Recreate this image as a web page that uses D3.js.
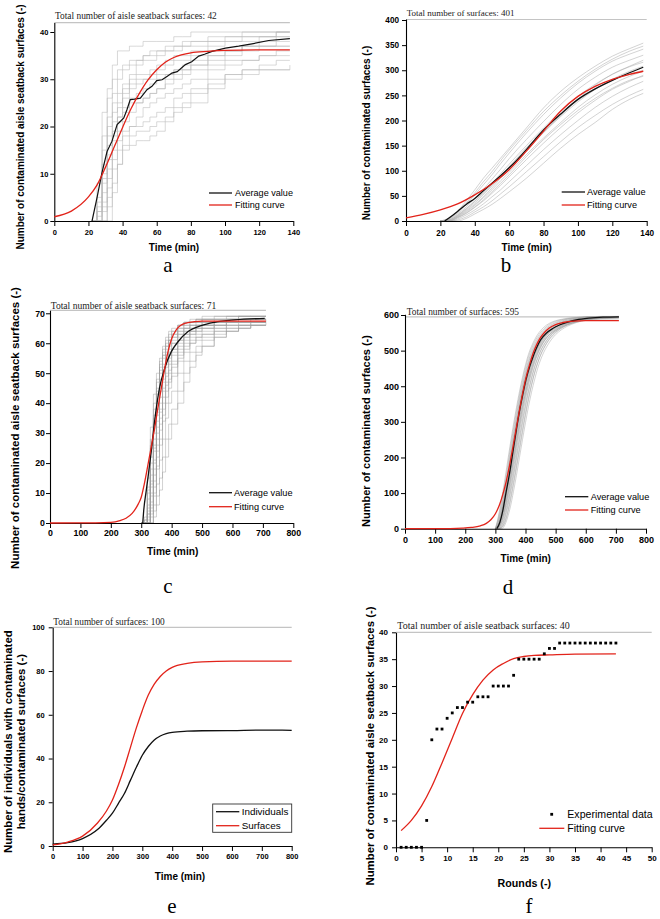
<!DOCTYPE html>
<html><head><meta charset="utf-8">
<script src="https://cdn.jsdelivr.net/npm/d3@7"></script>
<style>body{margin:0;background:#fff}svg{display:block}</style>
</head><body><svg id="chart" width="660" height="919"></svg>
<script>
// ---------------- DATA ----------------
// Panel a
const aXTicks = [0,20,40,60,80,100,120,140];
const aYTicks = [0,10,20,30,40];
const aAvgT = [22.1,25,27.9,30.9,33.8,36.8,38.5,40.7,42.5,44.5,47,50.4,54.3,57.2,60,63.1,66,68.9,72,76.8,80.5,84.6,88,92.4,100.2,108,115.8,125.6,138];
const aAvgV = [0,4.9,10.2,14.7,16.9,20.4,21,21.8,23.5,25.7,25.8,26,27.8,28.5,29.7,29.9,30.6,31.3,31.6,33.1,33.7,34.9,35.3,35.9,36.6,37,37.5,38.2,38.6];
const aFitT = [0,10,20,25,30,35,40,45,50,55,60,65,70,80,90,100,120,138];
const aFitV = [0.9,2.1,5.1,7.6,11.4,15.6,19.8,23.8,27.1,29.9,32,33.6,34.6,35.6,35.9,36.1,36.2,36.2];
const aRunT = [22,25,28,31,34,37,40,44,48,52,56,60,65,70,75,80,90,100,110,120,130,138];
const aRuns = [
  [0,8,23,28,33,36,36,37,37,38,38,38,38,39,39,40,40,40,40,40,40,40],
  [0,4,15,22,27,30,32,33,34,35,36,36,37,37,38,38,39,39,40,40,40,40],
  [0,2,10,18,23,25,28,30,31,31,32,33,34,35,35,36,37,38,38,39,39,39],
  [0,0,6,13,19,22,24,26,27,28,29,30,31,32,33,34,35,36,37,37,38,38],
  [0,0,3,9,15,19,21,23,25,26,27,28,29,30,31,32,34,35,36,37,37,37],
  [0,0,0,5,11,15,18,20,22,24,25,26,27,28,29,30,32,33,34,35,36,36],
  [0,0,0,3,8,12,15,16,17,17,18,19,21,23,24,25,28,30,31,32,32,33],
  [0,1,8,16,21,24,27,29,30,30,30,31,31,32,32,33,33,34,34,35,35,35],
  [0,3,12,20,25,27,29,31,33,34,34,35,36,36,37,37,38,38,39,39,40,40],
  [0,0,2,7,13,17,19,20,20,21,22,23,24,26,27,28,30,31,32,32,32,32],
  [0,0,4,11,17,21,23,25,25,26,27,28,30,31,32,33,35,36,37,38,39,39],
  [0,2,9,14,18,22,26,28,29,30,31,32,33,34,34,35,36,36,37,37,37,37],
  [0,0,0,0,6,12,16,18,19,19,20,21,22,24,25,27,29,31,32,33,34,34],
  [0,5,18,26,30,32,33,34,34,35,35,36,36,37,37,38,38,39,39,39,40,40]
];
// Panel b
const bXTicks = [0,20,40,60,80,100,120,140];
const bYTicks = [0,50,100,150,200,250,300,350,400];
const bAvgT = [22.5,25,30,35,40,45,50,55,60,65,70,75,80,90,100,110,120,130,138];
const bAvgV = [0,6,19,33,45,60,75,90,106,123,142,162,181,213,242,263,280,295,306];
const bFitT = [0,10,20,30,40,50,60,70,80,90,100,110,120,130,138];
const bFitV = [6,13,22,34,52,74,102,139,179,219,248,268,282,292,298];
const bRunT = [20,25,30,35,40,45,50,55,60,70,80,90,100,110,120,130,138];
const bRuns = [
  [0,6,20,40,62,85,105,125,145,185,225,258,285,308,328,343,354],
  [0,4,16,33,52,72,92,114,135,175,212,245,274,298,318,332,342],
  [0,3,14,28,45,63,83,103,124,162,198,232,262,286,306,320,330],
  [0,2,12,25,40,57,75,94,113,150,185,218,248,272,292,307,316],
  [0,1,10,22,36,52,70,88,106,142,176,208,237,262,282,298,308],
  [0,0,8,18,31,46,62,80,97,132,165,196,226,251,272,288,298],
  [0,0,6,15,27,40,55,71,88,122,155,186,215,240,262,278,290],
  [0,0,4,12,22,34,48,62,78,110,142,172,200,226,248,266,278],
  [0,0,2,8,18,28,40,54,68,98,128,158,186,210,232,250,262],
  [0,0,0,5,14,23,33,45,58,85,115,145,172,196,222,242,254],
  [0,5,18,36,56,78,98,120,141,180,218,250,278,302,322,338,348],
  [0,2,11,24,39,55,72,90,108,146,180,212,240,262,280,292,300],
  [0,1,9,20,33,48,66,85,103,140,176,210,242,270,292,308,320],
  [0,0,7,16,28,42,58,75,92,128,162,192,220,244,264,280,288]
];
// Panel c
const cXTicks = [0,100,200,300,400,500,600,700,800];
const cYTicks = [0,10,20,30,40,50,60,70];
const cAvgT = [305,308,316,322,333,344,360,377,399,421,454,497,541,607,706];
const cAvgV = [0,4,10.5,15,24,34,45,51.6,57.2,60.5,63.9,65.9,67,67.8,68.3];
const cFitT = [0,150,200,230,250,270,290,300,310,322,333,344,355,366,377,388,400,415,430,450,475,500,550,600,650,710];
const cFitV = [0,0.05,0.2,0.8,1.6,3.2,6.3,8.6,13,19.4,25.5,31.6,38.5,45,51.5,57.2,61.5,64.5,66,66.8,67.2,67.4,67.4,67.4,67.4,67.4];
const cRunT = [300,310,320,330,340,350,360,370,380,390,400,420,440,460,480,500,540,580,620,660,710];
const cRuns = [
  [0,2,15,32,43,50,55,59,62,64,65,66,67,68,68,69,69,69,69,69,69],
  [0,0,10,26,38,47,53,57,60,62,64,66,67,67,68,68,68,69,69,69,69],
  [0,0,6,20,33,43,50,55,58,61,62,64,65,66,67,67,68,68,68,68,68],
  [0,0,4,16,28,38,46,52,56,59,61,63,65,66,66,67,67,68,68,68,68],
  [0,0,2,12,24,34,42,48,53,56,58,61,63,64,65,66,67,67,67,68,68],
  [0,0,0,9,20,30,38,45,50,54,57,60,62,64,65,65,66,67,67,67,67],
  [0,0,0,6,16,26,35,42,47,51,54,58,61,63,64,65,66,66,67,67,67],
  [0,0,0,4,12,22,31,38,44,48,52,56,59,61,62,63,65,66,66,67,67],
  [0,0,0,2,9,18,26,34,40,45,49,54,57,60,61,62,64,65,66,66,66],
  [0,0,0,0,6,13,21,28,35,40,44,50,54,57,59,61,63,64,65,66,66],
  [0,0,0,0,4,9,15,22,28,33,38,44,50,54,57,59,62,64,65,66,66],
  [0,0,0,0,2,6,11,17,22,28,33,40,47,52,56,59,62,64,65,66,67],
  [0,1,11,25,36,45,52,56,59,61,63,65,66,67,67,68,68,68,69,69,69],
  [0,0,3,14,26,37,45,51,55,58,60,62,64,65,66,66,67,67,68,68,68],
  [0,1,12,28,40,48,54,58,61,63,64,66,67,67,68,68,69,69,69,69,69],
  [0,0,8,22,35,44,51,56,59,61,63,65,66,67,67,68,68,68,69,69,69],
  [0,0,5,18,30,40,48,53,57,60,62,64,65,66,66,67,67,68,68,68,68],
  [0,0,3,13,25,36,44,50,54,57,60,63,64,65,66,66,67,67,68,68,68],
  [0,0,1,10,21,32,40,47,52,55,58,61,63,64,65,66,66,67,67,67,68],
  [0,0,0,7,18,28,37,44,49,53,56,59,62,63,64,65,66,67,67,67,67],
  [0,0,0,5,14,24,33,40,46,50,53,57,60,62,63,64,65,66,66,67,67],
  [0,0,0,3,10,19,28,36,42,47,50,55,58,60,62,63,64,65,66,66,66]
];
// Panel d
const dXTicks = [0,100,200,300,400,500,600,700,800];
const dYTicks = [0,100,200,300,400,500,600];
const dAvgT = [305,315,325,335,347,358,369.5,380,391.6,402,413.7,425,435.8,450,469,490,513,540,568.6,610,657,710];
const dAvgV = [0,18,52,100,155,215,277,330,380,420,455,483,506,530,549,562,572,580,586,591,594,595];
const dFitT = [0,100,150,190,220,250,270,285,300,314,325,336,347,358,369,380,391,402,414,425,436,450,465,480,500,525,560,600,650,710];
const dFitV = [0,0.1,0.4,1.5,3.5,8,15,25,42,68,97,133,178,228,280,333,382,425,462,492,515,537,553,564,573,579,583,584,584,584];
const dRunT = [300,310,320,330,340,350,360,370,380,390,400,410,420,430,440,450,460,480,500,520,540,570,600,650,710];
const dRuns = [
  [0,35,80,130,185,240,292,340,385,425,460,490,512,530,545,556,565,577,584,588,591,593,595,596,596],
  [0,25,62,108,160,215,268,318,365,405,442,472,497,517,533,546,556,570,579,585,589,592,594,595,596],
  [0,18,50,92,142,195,250,300,348,390,428,460,485,507,524,538,549,564,574,581,586,590,593,595,595],
  [0,10,38,78,125,175,228,280,328,372,410,443,470,493,511,526,538,556,567,576,582,587,591,594,595],
  [0,5,26,60,105,152,205,258,308,352,393,428,458,483,503,519,532,551,564,573,579,586,590,593,594],
  [0,2,16,45,85,130,180,232,283,330,373,410,442,470,492,510,525,546,560,570,577,584,589,592,593],
  [0,0,8,30,65,108,155,205,256,305,350,390,425,455,480,500,516,540,556,567,575,583,588,592,594],
  [0,0,3,18,45,85,130,178,228,278,325,368,405,438,465,487,505,532,550,563,572,581,587,591,593],
  [0,0,0,8,30,62,104,150,200,250,298,343,383,418,449,474,494,524,545,559,569,579,586,590,592],
  [0,8,32,70,116,165,218,270,318,362,402,436,464,488,508,523,536,554,566,575,581,587,591,594,595],
  [0,3,20,52,95,142,195,246,296,342,382,418,448,474,495,512,526,545,557,566,573,580,585,588,589],
  [0,14,45,88,138,190,244,295,343,386,424,456,482,503,520,534,545,561,571,579,584,589,592,594,595],
  [0,30,72,120,172,228,280,330,375,416,452,482,505,524,539,551,560,574,582,587,590,593,595,596,596],
  [0,20,56,100,150,205,258,308,356,398,435,466,491,512,529,542,553,567,577,583,588,591,594,595,595],
  [0,12,42,84,132,184,238,290,338,382,420,452,478,500,517,532,543,560,571,579,584,589,592,594,595],
  [0,6,30,66,112,160,212,265,315,360,400,436,464,489,508,524,536,554,566,575,581,586,590,593,594],
  [0,3,20,50,92,138,190,242,292,340,382,420,451,478,499,516,530,550,562,571,578,585,589,592,594],
  [0,1,12,38,75,120,168,220,272,320,364,404,438,466,489,508,523,545,559,569,576,583,588,591,593],
  [0,0,5,25,58,100,146,196,246,296,342,384,420,452,477,498,514,539,555,566,574,582,587,591,593],
  [0,0,2,14,40,78,122,170,220,270,318,362,402,436,464,488,506,534,552,564,573,581,587,590,592]
];
// Panel e
const eXTicks = [0,100,200,300,400,500,600,700,800];
const eYTicks = [0,20,40,60,80,100];
const eT = [0,50,100,150,180,200,220,240,260,280,300,320,340,360,380,400,450,500,600,700,800];
const eSurfaces = [0.5,1.8,4.5,10.5,16,21,28,36,45,54,62,69,74,77.5,80,81.7,83.5,84.2,84.5,84.5,84.5];
const eIndividuals = [0.9,1.5,3.4,7.5,11.8,15,19.5,24,30,36,41.5,45.5,48.5,50.3,51.4,52,52.5,52.7,52.8,53,52.9];
// Panel f
const fXTicks = [0,5,10,15,20,25,30,35,40,45,50];
const fYTicks = [0,5,10,15,20,25,30,35,40];
const fRounds = [1,2,3,4,5,6,7,8,9,10,11,12,13,14,15,16,17,18,19,20,21,22,23,24,25,26,27,28,29,30,31,32,33,34,35,36,37,38,39,40,41,42,43];
const fExperimental = [0,0,0,0,0,5,20,22,22,24,25,26,26,27,27,28,28,28,30,30,30,30,32,35,35,35,35,35,36,37,37,38,38,38,38,38,38,38,38,38,38,38,38];
const fFitR = [1,3,5,7,9,11,13,15,17,19,21,23,25,27,30,35,43];
const fFitV = [3.1,5.0,7.7,11.3,15.7,20.3,24.9,28.4,31.1,33.0,34.2,35.1,35.5,35.7,35.8,35.95,36.0];

// ---------------- DRAWING ----------------
const SANS = "'Liberation Sans', Arial, Helvetica, sans-serif";
const SERIF = "'Liberation Serif', 'Times New Roman', serif";
const RED = "#e2231a";
const svg = d3.select("#chart");
const zip = (T, V) => T.map((t, i) => [t, V[i]]);

function addText(x, y, txt, o) {
  const t = svg.append("text").attr("x", x).attr("y", y).text(txt)
    .style("font-family", o.family || SANS)
    .style("font-size", o.size + "px")
    .style("font-weight", o.bold ? "bold" : "normal")
    .attr("fill", o.fill || "#000")
    .attr("text-anchor", o.anchor || "start");
  if (o.dy) t.attr("dy", o.dy);
  if (o.rotate) t.attr("transform", `rotate(-90 ${x} ${y})`);
  return t;
}

function panel(p) {
  const x = d3.scaleLinear().domain(p.xDom).range([p.x0, p.x1]);
  const y = d3.scaleLinear().domain(p.yDom).range([p.yB, p.yT]);
  const g = svg.append("g");
  // total reference line
  g.append("line").attr("x1", x(p.xDom[0])).attr("x2", x(p.totalEnd))
    .attr("y1", y(p.total)).attr("y2", y(p.total))
    .attr("stroke", "#c4c4c4").attr("stroke-width", 1.2);
  addText(p.ttX, p.ttY, p.totalText, {family: SERIF, size: p.ttSize, fill: "#222"});
  // individual runs
  if (p.runs) {
    const ln = d3.line().x(d => x(d[0])).y(d => y(d[1])).curve(p.runCurve);
    p.runs.forEach(r => {
      g.append("path").attr("d", ln(zip(p.runT, r))).attr("fill", "none")
        .attr("stroke", p.runColor).attr("stroke-width", 0.6).attr("stroke-opacity", p.runOpacity);
    });
  }
  // axes
  const xa = g.append("g").attr("transform", `translate(0,${p.yB})`);
  xa.call(d3.axisBottom(x).tickValues(p.xMinor).tickSize(2.5).tickSizeOuter(0).tickFormat(""));
  xa.call(d3.axisBottom(x).tickValues(p.xTicks).tickSize(5).tickSizeOuter(0).tickPadding(p.xPad).tickFormat(d3.format("d")));
  const ya = g.append("g").attr("transform", `translate(${p.x0},0)`);
  ya.call(d3.axisLeft(y).tickValues(p.yMinor).tickSize(2.5).tickSizeOuter(0).tickFormat(""));
  ya.call(d3.axisLeft(y).tickValues(p.yTicks).tickSize(4).tickSizeOuter(0).tickPadding(p.yPad).tickFormat(d3.format("d")));
  [xa, ya].forEach(a => {
    a.selectAll(".domain").attr("stroke", "#000").attr("stroke-width", 1.1);
    a.selectAll(".tick line").attr("stroke", "#000").attr("stroke-width", 1);
    a.selectAll("text").style("font-family", SANS).style("font-weight", "bold")
      .style("font-size", p.tickSize + "px").attr("fill", "#000");
  });
  // main series
  (p.series || []).forEach(s => {
    const ln = d3.line().x(d => x(d[0])).y(d => y(d[1])).curve(s.curve || d3.curveMonotoneX);
    g.append("path").attr("d", ln(zip(s.T, s.V))).attr("fill", "none")
      .attr("stroke", s.color).attr("stroke-width", s.width || 1.3);
  });
  if (p.points) {
    g.selectAll(null).data(zip(p.points.T, p.points.V)).enter().append("rect")
      .attr("x", d => x(d[0]) - 1.4).attr("y", d => y(d[1]) - 1.4)
      .attr("width", 2.8).attr("height", 2.8).attr("fill", "#000");
  }
  // titles
  addText(p.xtX, p.xtY, p.xTitle, {size: p.xtSize, bold: true, anchor: "middle", dy: "0.35em"});
  p.yTitle.forEach((t, i) => {
    addText(p.ytX[i], p.ytY, t, {size: p.ytSize, bold: true, anchor: "middle", dy: "0.35em", rotate: true});
  });
  addText(p.letX, p.letY, p.letter, {family: SERIF, size: 21, anchor: "middle"});
  // legend
  if (p.box) {
    g.append("rect").attr("x", p.box[0]).attr("y", p.box[1]).attr("width", p.box[2]).attr("height", p.box[3])
      .attr("fill", "#fff").attr("stroke", "#333").attr("stroke-width", 0.9);
  }
  p.legend.forEach(l => {
    if (l.square) {
      g.append("rect").attr("x", l.sx - 1.4).attr("y", l.y - 1.4).attr("width", 2.8).attr("height", 2.8).attr("fill", "#000");
    } else {
      g.append("line").attr("x1", l.x1).attr("x2", l.x2).attr("y1", l.y).attr("y2", l.y)
        .attr("stroke", l.color).attr("stroke-width", 1.3);
    }
    addText(l.tx, l.y, l.text, {size: p.legSize, dy: "0.35em"});
  });
}

const minorBetween = (ticks) => ticks.slice(0, -1).map((t, i) => (t + ticks[i + 1]) / 2);

// a
panel({
  xDom: [0, 140], yDom: [0, 42], x0: 54.3, x1: 293.3, yB: 221, yT: 22.55,
  xTicks: aXTicks, xMinor: minorBetween(aXTicks), yTicks: aYTicks, yMinor: [5, 15, 25, 35],
  tickSize: 7.5, xPad: 4, yPad: 2,
  total: 42, totalEnd: 138, totalText: "Total number of aisle seatback surfaces: 42", ttX: 55, ttY: 19, ttSize: 9.4,
  runs: aRuns, runT: aRunT, runCurve: d3.curveStepAfter, runColor: "#b8b8b8", runOpacity: 0.9,
  series: [
    {T: aAvgT, V: aAvgV, color: "#111", curve: d3.curveLinear, width: 1.2},
    {T: aFitT, V: aFitV, color: RED, width: 1.3}
  ],
  xTitle: "Time (min)", xtX: 174, xtY: 247, xtSize: 10,
  yTitle: ["Number of contaminated aisle seatback surfaces (-)"], ytX: [20], ytY: 127, ytSize: 10,
  letter: "a", letX: 168, letY: 272,
  legSize: 9.1,
  legend: [
    {x1: 209, x2: 232, y: 193, color: "#111", tx: 235, text: "Average value"},
    {x1: 209, x2: 232, y: 205, color: RED, tx: 235, text: "Fitting curve"}
  ]
});
// b
panel({
  xDom: [0, 140], yDom: [0, 402], x0: 406, x1: 646.7, yB: 221, yT: 19,
  xTicks: bXTicks, xMinor: minorBetween(bXTicks), yTicks: bYTicks, yMinor: minorBetween(bYTicks),
  tickSize: 8.2, xPad: 4, yPad: 3,
  total: 401, totalEnd: 140, totalText: "Total number of surfaces: 401", ttX: 406.7, ttY: 16, ttSize: 9,
  runs: bRuns, runT: bRunT, runCurve: d3.curveMonotoneX, runColor: "#a8a8a8", runOpacity: 0.85,
  series: [
    {T: bAvgT, V: bAvgV, color: "#111", width: 1.3},
    {T: bFitT, V: bFitV, color: RED, width: 1.3}
  ],
  xTitle: "Time (min)", xtX: 526.7, xtY: 247, xtSize: 10,
  yTitle: ["Number of contaminated surfaces (-)"], ytX: [366.7], ytY: 133, ytSize: 10,
  letter: "b", letX: 506, letY: 272,
  legSize: 9.2,
  legend: [
    {x1: 561.7, x2: 585, y: 192, color: "#111", tx: 587, text: "Average value"},
    {x1: 561.7, x2: 585, y: 205, color: RED, tx: 587, text: "Fitting curve"}
  ]
});
// c
panel({
  xDom: [0, 800], yDom: [0, 71], x0: 50, x1: 293.3, yB: 523, yT: 310.3,
  xTicks: cXTicks, xMinor: minorBetween(cXTicks), yTicks: cYTicks, yMinor: minorBetween(cYTicks),
  tickSize: 8.8, xPad: 2, yPad: 1,
  total: 71, totalEnd: 710, totalText: "Total number of aisle seatback surfaces: 71", ttX: 50.7, ttY: 308.5, ttSize: 9.6,
  runs: cRuns, runT: cRunT, runCurve: d3.curveStepAfter, runColor: "#9c9c9c", runOpacity: 0.75,
  series: [
    {T: cAvgT, V: cAvgV, color: "#111", width: 1.3},
    {T: cFitT, V: cFitV, color: RED, width: 1.3}
  ],
  xTitle: "Time (min)", xtX: 172.7, xtY: 551.7, xtSize: 10.2,
  yTitle: ["Number of contaminated aisle seatback surfaces (-)"], ytX: [15], ytY: 428, ytSize: 11.5,
  letter: "c", letX: 168, letY: 593,
  legSize: 9.2,
  legend: [
    {x1: 209, x2: 232, y: 492.7, color: "#111", tx: 234, text: "Average value"},
    {x1: 209, x2: 232, y: 506.7, color: RED, tx: 234, text: "Fitting curve"}
  ]
});
// d
panel({
  xDom: [0, 800], yDom: [0, 602], x0: 405, x1: 646, yB: 528.7, yT: 314.3,
  xTicks: dXTicks, xMinor: minorBetween(dXTicks), yTicks: dYTicks, yMinor: minorBetween(dYTicks),
  tickSize: 9, xPad: 3, yPad: 2,
  total: 595, totalEnd: 710, totalText: "Total number of surfaces: 595", ttX: 406.7, ttY: 315, ttSize: 9.4,
  runs: dRuns, runT: dRunT, runCurve: d3.curveMonotoneX, runColor: "#9c9c9c", runOpacity: 0.75,
  series: [
    {T: dAvgT, V: dAvgV, color: "#111", width: 1.3},
    {T: dFitT, V: dFitV, color: RED, width: 1.3}
  ],
  xTitle: "Time (min)", xtX: 525.7, xtY: 558, xtSize: 10,
  yTitle: ["Number of contaminated surfaces (-)"], ytX: [366], ytY: 431, ytSize: 11,
  letter: "d", letX: 508, letY: 594,
  legSize: 9.2,
  legend: [
    {x1: 565, x2: 588.3, y: 496.7, color: "#111", tx: 590.7, text: "Average value"},
    {x1: 565, x2: 588.3, y: 510, color: RED, tx: 590.7, text: "Fitting curve"}
  ]
});
// e
panel({
  xDom: [0, 800], yDom: [0, 100], x0: 52.7, x1: 291.7, yB: 846, yT: 627.3,
  xTicks: eXTicks, xMinor: minorBetween(eXTicks), yTicks: eYTicks, yMinor: minorBetween(eYTicks),
  tickSize: 7.5, xPad: 3, yPad: 4,
  total: 100, totalEnd: 800, totalText: "Total number of surfaces: 100", ttX: 53.3, ttY: 625.3, ttSize: 9.3,
  series: [
    {T: eT, V: eIndividuals, color: "#111", width: 1.3},
    {T: eT, V: eSurfaces, color: RED, width: 1.3}
  ],
  xTitle: "Time (min)", xtX: 180, xtY: 876.7, xtSize: 10,
  yTitle: ["Number of individuals with contaminated", "hands/contaminated surfaces (-)"], ytX: [8.3, 20.7], ytY: 741.7, ytSize: 11.4,
  letter: "e", letX: 172, letY: 913,
  box: [212.7, 804, 79, 28.3],
  legSize: 9.9,
  legend: [
    {x1: 216, x2: 239.3, y: 811.7, color: "#111", tx: 241.7, text: "Individuals"},
    {x1: 216, x2: 239.3, y: 825.7, color: RED, tx: 241.7, text: "Surfaces"}
  ]
});
// f
panel({
  xDom: [0, 50], yDom: [0, 40], x0: 396, x1: 651.7, yB: 847.3, yT: 632.3,
  xTicks: fXTicks, xMinor: minorBetween(fXTicks), yTicks: fYTicks, yMinor: minorBetween(fYTicks),
  tickSize: 8, xPad: 3, yPad: 4,
  total: 40, totalEnd: 50, totalText: "Total number of aisle seatback surfaces: 40", ttX: 397.3, ttY: 628.7, ttSize: 10,
  series: [
    {T: fFitR, V: fFitV, color: RED, width: 1.3}
  ],
  points: {T: fRounds, V: fExperimental},
  xTitle: "Rounds (-)", xtX: 524.3, xtY: 883.3, xtSize: 10.7,
  yTitle: ["Number of contaminated aisle seatback surfaces (-)"], ytX: [370], ytY: 746, ytSize: 11.4,
  letter: "f", letX: 529, letY: 913,
  legSize: 10.6,
  legend: [
    {square: true, sx: 551.7, y: 814.3, tx: 567.3, text: "Experimental data"},
    {x1: 539.3, x2: 564.3, y: 828.3, color: RED, tx: 567.3, text: "Fitting curve"}
  ]
});
</script></body></html>
